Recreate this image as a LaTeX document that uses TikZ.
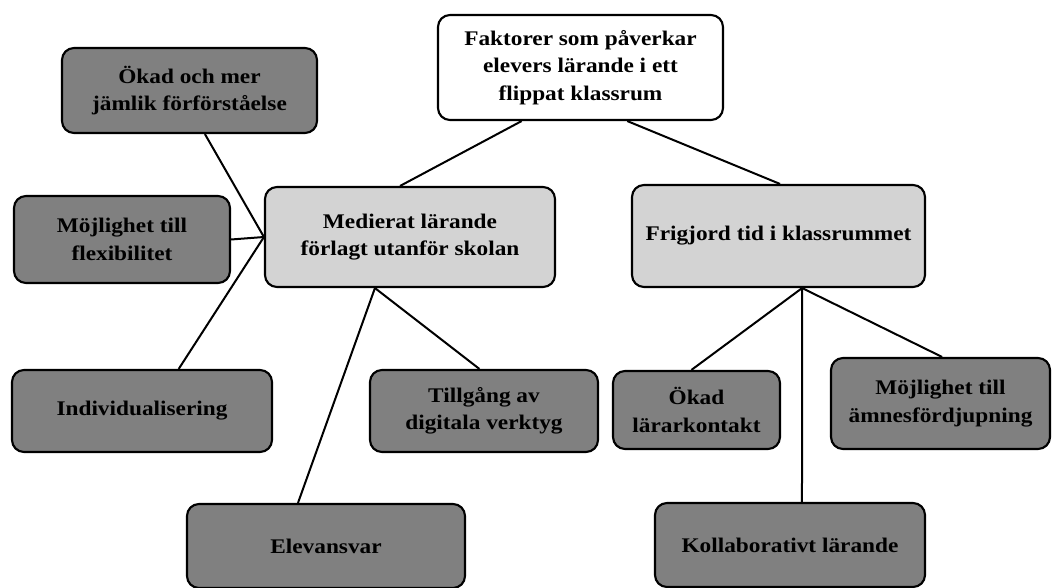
\documentclass[tikz,border=0pt]{standalone}
\usepackage{fontspec}
\setmainfont{Liberation Serif}[FakeStretch=1.12]
\usetikzlibrary{calc}
\definecolor{darkbox}{HTML}{808080}
\definecolor{lightbox}{HTML}{D3D3D3}
\tikzset{
  box/.style 2 args={draw=black, line width=1.6pt, rounded corners=9pt, align=center,
    font=\fontsize{15.6}{20.5}\selectfont\bfseries, inner sep=2pt,
    minimum width=#1*0.75pt, minimum height=#2*0.75pt},
  dbox/.style 2 args={box={#1}{#2}, fill=darkbox},
  lbox/.style 2 args={box={#1}{#2}, fill=lightbox},
  wbox/.style 2 args={box={#1}{#2}, fill=white},
  link/.style={draw=black, line width=1.5pt}
}
\begin{document}
\begin{tikzpicture}[x=0.75pt, y=-0.75pt]
\useasboundingbox (0,0) rectangle (1052,588);
\fill[white] (0,0) rectangle (1052,588);

% nodes
\node[wbox={285}{105}] (top) at (580.5,67.5) {Faktorer som påverkar\\elevers lärande i ett\\flippat klassrum};
\node[dbox={255}{85}] (ok1) at (189.5,90.5) {Ökad och mer\\jämlik förförståelse};
\node[dbox={216}{87}] (flex) at (122,239.5) {Möjlighet till\\flexibilitet};
\node[lbox={290}{100}] (med) at (410,237) {Medierat lärande\\förlagt utanför skolan};
\node[dbox={260}{82}] (indiv) at (142,411) {Individualisering};
\node[dbox={228}{82}] (till) at (484,411) {Tillgång av\\digitala verktyg};
\node[dbox={278}{84}] (elev) at (326,546) {Elevansvar};
\node[lbox={293}{102}] (frig) at (778.5,236) {Frigjord tid i klassrummet};
\node[dbox={167}{78}] (okl) at (696.5,410) {Ökad\\lärarkontakt};
\node[dbox={219}{91}] (amne) at (940.5,403.5) {Möjlighet till\\ämnesfördjupning};
\node[dbox={270}{84}] (koll) at (790,545) {Kollaborativt lärande};

% connectors
\draw[link] ($(top.south west)!0.295!(top.south east)$) -- ($(med.north west)!0.466!(med.north east)$);
\draw[link] ($(top.south west)!0.663!(top.south east)$) -- ($(frig.north west)!0.505!(frig.north east)$);

\draw[link] (med.west) -- ($(ok1.south west)!0.56!(ok1.south east)$);
\draw[link] (med.west) -- (flex.east);
\draw[link] (med.west) -- ($(indiv.north west)!0.64!(indiv.north east)$);

\draw[link] ($(med.south west)!0.38!(med.south east)$) -- ($(elev.north west)!0.40!(elev.north east)$);
\draw[link] ($(med.south west)!0.38!(med.south east)$) -- ($(till.north west)!0.48!(till.north east)$);

\draw[link] ($(frig.south west)!0.58!(frig.south east)$) -- ($(okl.north west)!0.47!(okl.north east)$);
\draw[link] ($(frig.south west)!0.58!(frig.south east)$) -- ($(koll.north west)!0.544!(koll.north east)$);
\draw[link] ($(frig.south west)!0.58!(frig.south east)$) -- ($(amne.north west)!0.507!(amne.north east)$);
\end{tikzpicture}
\end{document}
